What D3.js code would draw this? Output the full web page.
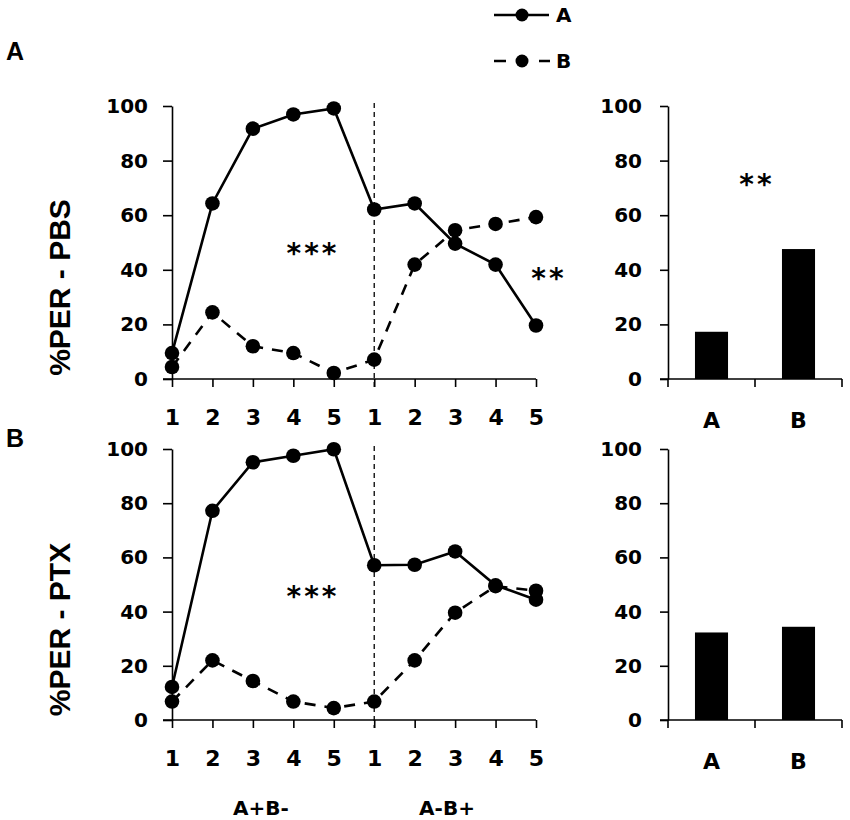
<!DOCTYPE html>
<html>
<head>
<meta charset="utf-8">
<script src="https://cdn.jsdelivr.net/npm/d3@7"></script>
<style>
  html, body { margin: 0; padding: 0; background: #fff; }
  svg { display: block; }
</style>
</head>
<body>
<svg id="chart" width="850" height="820"></svg>
<script>
// ---------- data ----------
const xLabels = ["1", "2", "3", "4", "5", "1", "2", "3", "4", "5"];
const phaseLabels = ["A+B-", "A-B+"];
const seriesNames = ["A", "B"];
const pbsA = [9.5, 64.3, 91.7, 96.9, 99.1, 62.1, 64.3, 49.6, 41.9, 19.6];
const pbsB = [4.4, 24.4, 12.0, 9.5, 2.2, 7.1, 41.9, 54.5, 56.8, 59.3];
const ptxA = [12.2, 77.2, 95.1, 97.5, 99.9, 57.1, 57.3, 62.2, 49.7, 44.4];
const ptxB = [6.8, 22.0, 14.4, 6.8, 4.4, 6.8, 22.0, 39.6, 49.4, 47.7];
const barCats = ["A", "B"];
const pbsBars = [17.3, 47.6];
const ptxBars = [32.3, 34.4];
const yTicks = [0, 20, 40, 60, 80, 100];
const panelTitles = ["%PER - PBS", "%PER - PTX"];
const panelLetters = ["A", "B"];

// ---------- drawing ----------
const svg = d3.select("#chart");
svg.append("rect").attr("width", 850).attr("height", 820).attr("fill", "#fff");

const tickFont = "'DejaVu Sans', sans-serif";
const arialFont = "'Liberation Sans', Arial, sans-serif";
const xLine = d3.scaleLinear().domain([0, xLabels.length - 1]).range([172, 536]);
const xBand = d3.scaleBand().domain(barCats).range([668, 842]).padding(0);

function starText(x, yCenter, txt) {
  svg.append("text")
    .attr("x", x).attr("y", yCenter + 15)
    .attr("text-anchor", "middle")
    .attr("font-family", tickFont).attr("font-weight", "bold")
    .attr("font-size", 28)
    .attr("letter-spacing", 3)
    .text(txt);
}

function drawPanel(idx, yTop, yBot, aVals, bVals, bars) {
  const y = d3.scaleLinear().domain([0, 100]).range([yBot, yTop]);

  // left y axis
  const gy = svg.append("g").attr("transform", `translate(${xLine.range()[0]},0)`)
    .call(d3.axisLeft(y).tickValues(yTicks).tickSize(9).tickSizeOuter(0).tickPadding(15));
  // bottom x axis
  const gx = svg.append("g").attr("transform", `translate(0,${yBot})`)
    .call(d3.axisBottom(xLine).tickValues(d3.range(xLabels.length))
      .tickFormat(i => xLabels[i]).tickSize(8).tickSizeOuter(0).tickPadding(22));
  [gy, gx].forEach(g => {
    g.select(".domain").attr("stroke", "#000").attr("stroke-width", 1.6);
    g.selectAll(".tick line").attr("stroke", "#000").attr("stroke-width", 1.6);
    g.selectAll("text").attr("font-family", tickFont).attr("font-weight", "bold").attr("fill", "#000");
  });
  gy.selectAll("text").attr("font-size", 20);
  gx.selectAll("text").attr("font-size", 22).attr("dy", "0.71em");
  gx.select(".domain").attr("d", `M${xLine.range()[0] - 9},0H${xLine.range()[1]}`);

  // y title
  svg.append("text")
    .attr("transform", `translate(70,${(yTop + yBot) / 2 + 45}) rotate(-90)`)
    .attr("text-anchor", "middle")
    .attr("font-family", arialFont).attr("font-weight", "bold")
    .attr("font-size", 30)
    .text(panelTitles[idx]);

  // panel letter
  svg.append("text")
    .attr("x", 6).attr("y", yTop - (idx === 0 ? 46 : 2))
    .attr("font-family", arialFont).attr("font-weight", "bold")
    .attr("font-size", 25)
    .text(panelLetters[idx]);

  // vertical dashed divider at start of second phase
  svg.append("line")
    .attr("x1", xLine(5)).attr("x2", xLine(5))
    .attr("y1", y(100) - 3).attr("y2", yBot + 8)
    .attr("stroke", "#000").attr("stroke-width", 1.3)
    .attr("stroke-dasharray", "5,4");

  const line = d3.line().x((d, i) => xLine(i)).y(d => y(d));
  svg.append("path").datum(bVals).attr("d", line)
    .attr("fill", "none").attr("stroke", "#000").attr("stroke-width", 2.6)
    .attr("stroke-dasharray", "11,9");
  svg.append("path").datum(aVals).attr("d", line)
    .attr("fill", "none").attr("stroke", "#000").attr("stroke-width", 2.6);
  [bVals, aVals].forEach(vals => {
    svg.append("g").selectAll("circle").data(vals).join("circle")
      .attr("cx", (d, i) => xLine(i)).attr("cy", d => y(d)).attr("r", 7.3)
      .attr("fill", "#000");
  });

  // bar panel
  const gby = svg.append("g").attr("transform", `translate(${xBand.range()[0]},0)`)
    .call(d3.axisLeft(y).tickValues(yTicks).tickSize(8).tickSizeOuter(0).tickPadding(18));
  gby.select(".domain").attr("stroke", "#000").attr("stroke-width", 1.6);
  gby.selectAll(".tick line").attr("stroke", "#000").attr("stroke-width", 1.6);
  gby.selectAll("text").attr("font-family", tickFont).attr("font-weight", "bold")
    .attr("font-size", 20).attr("fill", "#000");

  const gbx = svg.append("g").attr("transform", `translate(0,${yBot})`);
  gbx.append("path").attr("d", `M${xBand.range()[0] - 8},0H${xBand.range()[1]}`)
    .attr("stroke", "#000").attr("stroke-width", 1.6);
  const edges = barCats.map(c => xBand(c)).concat([xBand.range()[1]]);
  gbx.selectAll("line.edge").data(edges).join("line")
    .attr("x1", d => d).attr("x2", d => d).attr("y1", 0).attr("y2", 8)
    .attr("stroke", "#000").attr("stroke-width", 1.6);
  gbx.selectAll("text").data(barCats).join("text")
    .attr("x", d => xBand(d) + xBand.bandwidth() / 2)
    .attr("y", 49)
    .attr("text-anchor", "middle")
    .attr("font-family", tickFont).attr("font-weight", "bold").attr("font-size", 22)
    .text(d => d);

  const bw = xBand.bandwidth() * 0.38;
  svg.append("g").selectAll("rect").data(bars).join("rect")
    .attr("x", (d, i) => xBand(barCats[i]) + xBand.bandwidth() / 2 - bw / 2)
    .attr("width", bw)
    .attr("y", d => y(d))
    .attr("height", d => yBot - y(d))
    .attr("fill", "#000");
  return y;
}

drawPanel(0, 106, 379, pbsA, pbsB, pbsBars);
drawPanel(1, 449, 720, ptxA, ptxB, ptxBars);

// significance marks
starText(313, 248, "***");
starText(549, 273, "**");
starText(757, 179, "**");
starText(313, 591, "***");

// phase labels
const phaseX = [261, 447];
svg.selectAll("text.phase").data(phaseLabels).join("text")
  .attr("class", "phase")
  .attr("x", (d, i) => phaseX[i]).attr("y", 815)
  .attr("text-anchor", "middle")
  .attr("font-family", tickFont).attr("font-weight", "bold").attr("font-size", 20)
  .text(d => d);

// legend
const leg = svg.append("g");
const legY = [15, 61];
leg.append("line").attr("x1", 494).attr("x2", 549).attr("y1", legY[0]).attr("y2", legY[0])
  .attr("stroke", "#000").attr("stroke-width", 2.6);
leg.append("line").attr("x1", 494).attr("x2", 550).attr("y1", legY[1]).attr("y2", legY[1])
  .attr("stroke", "#000").attr("stroke-width", 2.6).attr("stroke-dasharray", "12,33");
leg.selectAll("circle").data(legY).join("circle")
  .attr("cx", 522).attr("cy", d => d).attr("r", 6.5).attr("fill", "#000");
leg.selectAll("text").data(seriesNames).join("text")
  .attr("x", 556).attr("y", (d, i) => legY[i] + 7)
  .attr("font-family", tickFont).attr("font-weight", "bold").attr("font-size", 20)
  .text(d => d);
</script>
</body>
</html>
